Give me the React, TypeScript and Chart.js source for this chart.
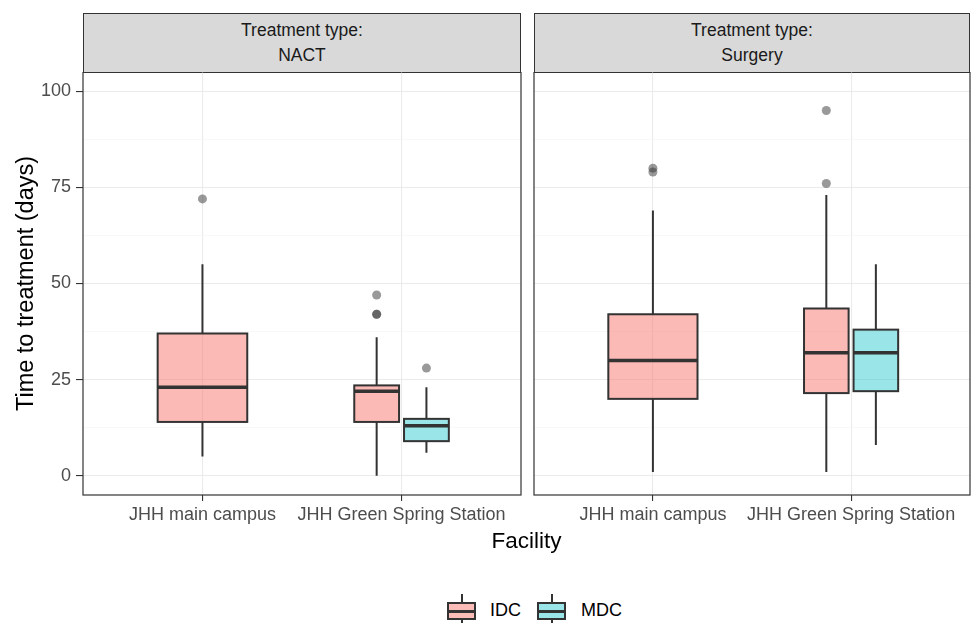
import React, { useEffect, useRef } from 'react';
import { Chart, registerables } from 'chart.js';
Chart.register(...registerables);

const FONT = '"Liberation Sans", Arial, Helvetica, sans-serif';
Chart.defaults.font.family = FONT;

const facilities = ['JHH main campus', 'JHH Green Spring Station'];
const panelNames = ['NACT', 'Surgery'];
const groupNames = ['IDC', 'MDC'];
const yMajorTicks = [0, 25, 50, 75, 100];
const yMinorTicks = [12.5, 37.5, 62.5, 87.5];

// [lower whisker, Q1, median, Q3, upper whisker] per facility
const nactIdcBoxes = [[5, 14, 23, 37, 55], [0, 14, 22, 23.5, 36]];
const nactMdcBoxes = [null, [6, 9, 13, 14.8, 23]];
const surgeryIdcBoxes = [[1, 20, 30, 42, 69], [1, 21.5, 32, 43.5, 73]];
const surgeryMdcBoxes = [null, [8, 22, 32, 38, 55]];

const nactIdcOutliers = [[72], [47, 42, 42]];
const nactMdcOutliers = [[], [28]];
const surgeryIdcOutliers = [[80, 79], [95, 76]];
const surgeryMdcOutliers = [[], []];

const fillColors = ['rgba(248,118,109,0.5)', 'rgba(0,191,196,0.4)'];
const legendFills = ['#FBBBB6', '#99E5E7'];
const LINE = '#333333';

const panelData = [
  { boxes: [nactIdcBoxes, nactMdcBoxes], outliers: [nactIdcOutliers, nactMdcOutliers] },
  { boxes: [surgeryIdcBoxes, surgeryMdcBoxes], outliers: [surgeryIdcOutliers, surgeryMdcOutliers] },
];

function groupPos(fi: number, g: number, boxes: any[]) {
  const pair = boxes[1][fi] != null && boxes[0][fi] != null;
  const center = fi + 1 + (pair ? (g === 0 ? -0.125 : 0.125) : 0);
  const half = pair ? 0.1125 : 0.225;
  return { center, half };
}

function zeroPad(s: any) {
  s.paddingTop = 0;
  s.paddingBottom = 0;
  s.paddingLeft = 0;
  s.paddingRight = 0;
}

function makeChart(canvas: HTMLCanvasElement, pIdx: number, showY: boolean) {
  const pd = panelData[pIdx];
  const datasets = [0, 1].map((g) => {
    const pts: { x: number; y: number }[] = [];
    facilities.forEach((_, fi) => {
      (pd.outliers[g][fi] || []).forEach((v: number) => {
        const { center } = groupPos(fi, g, pd.boxes);
        pts.push({ x: center, y: v });
      });
    });
    return {
      label: groupNames[g],
      data: pts,
      pointRadius: 4.5,
      pointHoverRadius: 4.5,
      backgroundColor: 'rgba(51,51,51,0.5)',
      borderColor: 'rgba(0,0,0,0)',
      borderWidth: 0,
    };
  });

  const boxPlugin = {
    id: 'boxes' + pIdx,
    beforeDatasetsDraw(chart: any) {
      const { ctx } = chart;
      const x = chart.scales.x;
      const y = chart.scales.y;
      ctx.save();
      facilities.forEach((_, fi) => {
        [0, 1].forEach((g) => {
          const s = pd.boxes[g][fi];
          if (!s) return;
          const { center, half } = groupPos(fi, g, pd.boxes);
          const xl = x.getPixelForValue(center - half);
          const xr = x.getPixelForValue(center + half);
          const xc = x.getPixelForValue(center);
          const [lo, q1, med, q3, hi] = s.map((v: number) => y.getPixelForValue(v));
          ctx.strokeStyle = LINE;
          ctx.lineWidth = 2;
          ctx.beginPath();
          ctx.moveTo(xc, q3);
          ctx.lineTo(xc, hi);
          ctx.moveTo(xc, q1);
          ctx.lineTo(xc, lo);
          ctx.stroke();
          ctx.fillStyle = fillColors[g];
          ctx.fillRect(xl, q3, xr - xl, q1 - q3);
          ctx.strokeRect(xl, q3, xr - xl, q1 - q3);
          ctx.lineWidth = 3.5;
          ctx.beginPath();
          ctx.moveTo(xl, med);
          ctx.lineTo(xr, med);
          ctx.stroke();
        });
      });
      ctx.restore();
    },
    afterDraw(chart: any) {
      const { ctx, chartArea: a } = chart;
      ctx.save();
      ctx.strokeStyle = LINE;
      ctx.lineWidth = 1.2;
      ctx.strokeRect(a.left, a.top, a.right - a.left, a.bottom - a.top);
      ctx.restore();
    },
  };

  const isMajor = (c: any) => c.tick && yMajorTicks.includes(c.tick.value);

  return new Chart(canvas, {
    type: 'scatter',
    data: { datasets },
    plugins: [boxPlugin],
    options: {
      animation: false,
      responsive: false,
      maintainAspectRatio: false,
      events: [],
      layout: { autoPadding: false, padding: { left: showY ? 0 : 4, right: showY ? 4 : 2, top: 0, bottom: 0 } },
      plugins: { legend: { display: false }, tooltip: { enabled: false } },
      scales: {
        x: {
          type: 'linear',
          min: 0.4,
          max: 2.6,
          afterBuildTicks: (s: any) => {
            s.ticks = facilities.map((_, i) => ({ value: i + 1 }));
          },
          afterFit: (s: any) => {
            s.height = 37;
            zeroPad(s);
          },
          ticks: {
            autoSkip: false,
            maxRotation: 0,
            minRotation: 0,
            padding: 3,
            color: '#4D4D4D',
            font: { size: 18 },
            callback: (v: any) => facilities[Math.round(v) - 1],
          },
          grid: { color: '#EBEBEB', lineWidth: 1.1, tickColor: LINE, tickLength: 6, tickWidth: 1.1 },
          border: { display: false },
        },
        y: {
          type: 'linear',
          min: -5,
          max: 105,
          afterBuildTicks: (s: any) => {
            s.ticks = [...yMajorTicks, ...yMinorTicks].sort((a, b) => a - b).map((v) => ({ value: v }));
          },
          afterFit: (s: any) => {
            s.width = showY ? 83 : 0;
            zeroPad(s);
          },
          ticks: {
            display: showY,
            autoSkip: false,
            padding: 5,
            color: '#4D4D4D',
            font: { size: 18 },
            callback: (v: any) => (yMajorTicks.includes(v) ? String(v) : ''),
          },
          grid: {
            color: (c: any) => (isMajor(c) ? '#EBEBEB' : '#F3F3F3'),
            lineWidth: (c: any) => (isMajor(c) ? 1.1 : 0.6),
            tickColor: (c: any) => (isMajor(c) ? LINE : 'rgba(0,0,0,0)'),
            tickLength: 7,
            tickWidth: 1.1,
            drawTicks: showY,
          },
          title: {
            display: showY,
            text: 'Time to treatment (days)',
            color: '#000000',
            font: { size: 23.5 },
            padding: { top: 12, bottom: 0 },
          },
          border: { display: false },
        },
      },
    } as any,
  });
}

function Panel({ idx, left, width, showY }: { idx: number; left: number; width: number; showY: boolean }) {
  const ref = useRef<HTMLCanvasElement | null>(null);
  useEffect(() => {
    const chart = makeChart(ref.current as HTMLCanvasElement, idx, showY);
    return () => chart.destroy();
  }, []);
  return (
    <canvas
      ref={ref}
      width={width}
      height={460}
      style={{ position: 'absolute', left, top: 72, width, height: 460 }}
    />
  );
}

function Strip({ left, width, name }: { left: number; width: number; name: string }) {
  return (
    <div
      style={{
        position: 'absolute',
        left,
        top: 13,
        width,
        height: 60,
        boxSizing: 'border-box',
        background: '#D9D9D9',
        border: '1.2px solid #333333',
        display: 'flex',
        flexDirection: 'column',
        justifyContent: 'center',
        alignItems: 'center',
        fontSize: 17.5,
        lineHeight: '25px',
        color: '#1A1A1A',
      }}
    >
      <div>Treatment type:</div>
      <div>{name}</div>
    </div>
  );
}

function LegendKey({ left, fill }: { left: number; fill: string }) {
  return (
    <div style={{ position: 'absolute', left, top: 594, width: 29, height: 29 }}>
      <div style={{ position: 'absolute', left: 13.5, top: 0, width: 2, height: 29, background: LINE }} />
      <div
        style={{
          position: 'absolute',
          left: 0,
          top: 8,
          width: 29,
          height: 18,
          boxSizing: 'border-box',
          border: '2px solid ' + LINE,
          background: fill,
        }}
      />
      <div style={{ position: 'absolute', left: 0, top: 15.5, width: 29, height: 3, background: LINE }} />
    </div>
  );
}

export default function App() {
  return (
    <div
      style={{
        position: 'absolute',
        left: 0,
        top: 0,
        width: 972,
        height: 623,
        background: '#FFFFFF',
        fontFamily: FONT,
        overflow: 'hidden',
      }}
    >
      <Strip left={83} width={438} name={panelNames[0]} />
      <Strip left={534} width={436} name={panelNames[1]} />
      <Panel idx={0} left={0} width={525} showY={true} />
      <Panel idx={1} left={530} width={442} showY={false} />
      <div
        style={{
          position: 'absolute',
          left: 83,
          width: 887,
          top: 528,
          textAlign: 'center',
          fontSize: 22.5,
          lineHeight: '26px',
          color: '#000000',
        }}
      >
        Facility
      </div>
      <LegendKey left={447} fill={legendFills[0]} />
      <div style={{ position: 'absolute', left: 490, top: 600, fontSize: 18, lineHeight: '21px', color: '#000' }}>
        {groupNames[0]}
      </div>
      <LegendKey left={537} fill={legendFills[1]} />
      <div style={{ position: 'absolute', left: 581, top: 600, fontSize: 18, lineHeight: '21px', color: '#000' }}>
        {groupNames[1]}
      </div>
    </div>
  );
}
